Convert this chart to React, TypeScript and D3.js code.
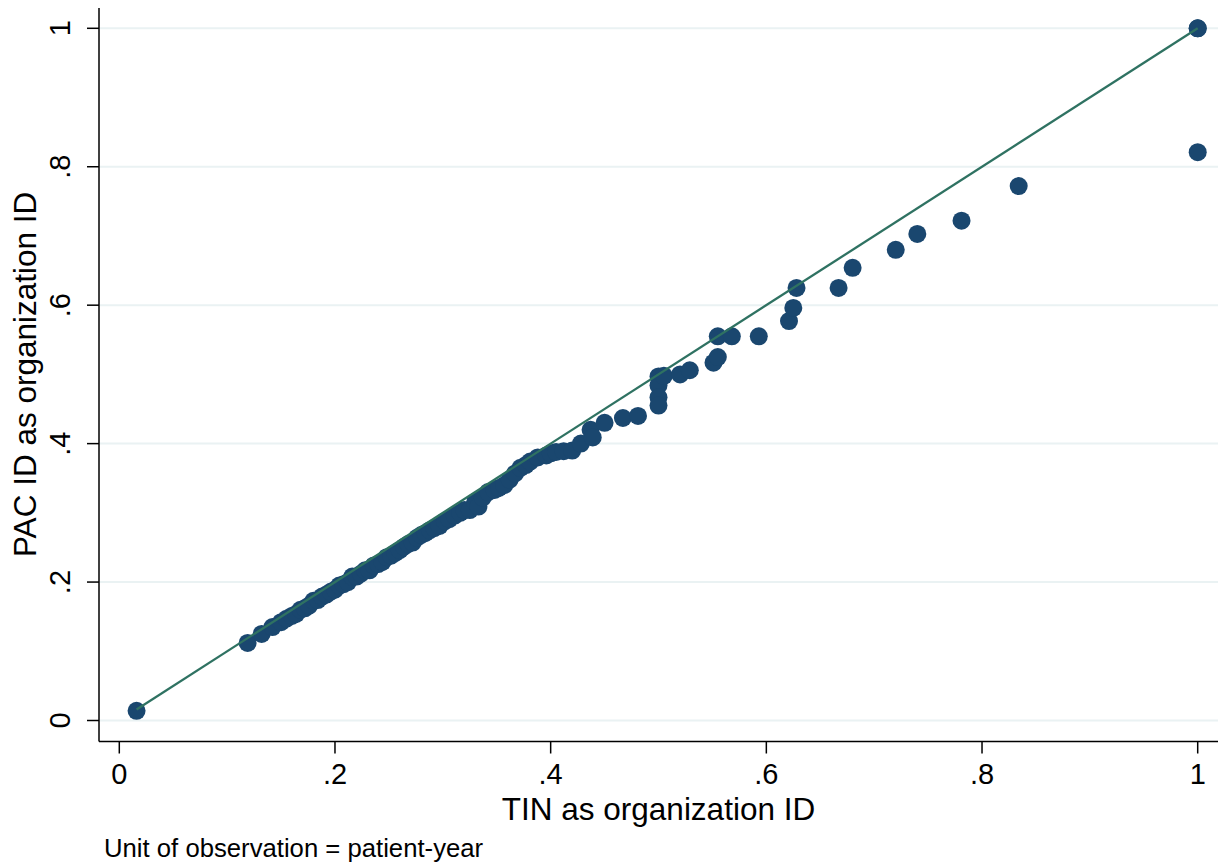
import React from "react";
import * as d3 from "d3";

const tinValues: number[] = [
  0.016, 0.119, 0.132, 0.142, 0.150, 0.155, 0.160, 0.164, 0.168, 0.172, 0.176, 0.180,
  0.184, 0.188, 0.192, 0.196, 0.200, 0.204, 0.208, 0.212, 0.216, 0.220, 0.224, 0.228,
  0.232, 0.236, 0.240, 0.244, 0.248, 0.252, 0.256, 0.260, 0.264, 0.268, 0.272, 0.276,
  0.280, 0.284, 0.288, 0.292, 0.297, 0.302, 0.306, 0.311, 0.316, 0.320, 0.325, 0.330,
  0.333, 0.337, 0.342, 0.348, 0.352, 0.357, 0.362, 0.367, 0.372, 0.377, 0.381, 0.388,
  0.396, 0.400, 0.405, 0.412, 0.420, 0.428, 0.437, 0.439, 0.450, 0.467, 0.481,
  0.500, 0.500, 0.500, 0.500, 0.505, 0.520, 0.529, 0.551, 0.555, 0.555, 0.568, 0.593,
  0.621, 0.625, 0.628, 0.667, 0.680, 0.720, 0.740, 0.781, 0.834, 1.0, 1.0, 1.0
];

const pacValues: number[] = [
  0.014, 0.112, 0.125, 0.135, 0.142, 0.147, 0.151, 0.154, 0.160, 0.162, 0.166, 0.173,
  0.174, 0.179, 0.182, 0.186, 0.189, 0.195, 0.197, 0.200, 0.208, 0.208, 0.212, 0.217,
  0.217, 0.224, 0.226, 0.229, 0.236, 0.238, 0.242, 0.246, 0.251, 0.255, 0.257, 0.264,
  0.268, 0.271, 0.275, 0.278, 0.281, 0.288, 0.291, 0.296, 0.300, 0.304, 0.304, 0.316,
  0.309, 0.322, 0.330, 0.333, 0.336, 0.340, 0.348, 0.357, 0.365, 0.369, 0.374, 0.380,
  0.383, 0.386, 0.388, 0.389, 0.390, 0.400, 0.420, 0.409, 0.430, 0.437, 0.440,
  0.497, 0.484, 0.467, 0.455, 0.498, 0.500, 0.506, 0.517, 0.525, 0.555, 0.555, 0.555,
  0.577, 0.596, 0.625, 0.625, 0.654, 0.680, 0.703, 0.722, 0.772, 1.0, 1.0, 0.821
];

const xTicks: number[] = [0, 0.2, 0.4, 0.6, 0.8, 1];
const yTicks: number[] = [0, 0.2, 0.4, 0.6, 0.8, 1];
const gridTicks: number[] = [0, 0.2, 0.4, 0.6, 0.8, 1];
const lineEnds: number[] = [0.016, 1];

const fmt = (v: number) => (v === 0 ? "0" : v === 1 ? "1" : d3.format(".1f")(v).replace(/^0/, ""));

export default function App() {
  const W = 1225;
  const H = 867;
  const x = d3.scaleLinear().domain([0, 1]).range([119.3, 1197.7]);
  const y = d3.scaleLinear().domain([0, 1]).range([720.5, 28.3]);
  const plotLeft = 99;
  const plotRight = 1218;
  const plotTop = 8;
  const plotBottom = 741.5;
  const font = "'Liberation Sans', Arial, sans-serif";
  const navy = "#1a476f";
  const lineColor = "#2f7262";
  const lineGen = d3.line<number>().x((d) => x(d)).y((d) => y(d));
  const pts = tinValues.map((t, i) => ({ t, p: pacValues[i] }));

  return (
    <svg width={W} height={H} style={{ position: "absolute", left: 0, top: 0, background: "#fff" }}>
      <rect x={0} y={0} width={W} height={H} fill="#ffffff" />
      {gridTicks.map((g) => (
        <line key={"g" + g} x1={plotLeft + 1} x2={plotRight} y1={y(g)} y2={y(g)} stroke="#eaf2f3" strokeWidth={2} />
      ))}
      {pts.map((d, i) => (
        <circle key={i} cx={x(d.t)} cy={y(d.p)} r={9} fill={navy} />
      ))}
      <path d={lineGen(lineEnds) || ""} stroke={lineColor} strokeWidth={2.3} fill="none" />
      <line x1={plotLeft} x2={plotLeft} y1={plotTop} y2={plotBottom} stroke="#000" strokeWidth={1.5} />
      <line x1={plotLeft} x2={plotRight} y1={plotBottom} y2={plotBottom} stroke="#000" strokeWidth={1.5} />
      {yTicks.map((t) => (
        <g key={"y" + t}>
          <line x1={plotLeft - 12} x2={plotLeft} y1={y(t)} y2={y(t)} stroke="#000" strokeWidth={1.5} />
          <text
            transform={`translate(70,${y(t)}) rotate(-90)`}
            textAnchor="middle"
            fontFamily={font}
            fontSize={29}
            fill="#000"
          >
            {fmt(t)}
          </text>
        </g>
      ))}
      {xTicks.map((t) => (
        <g key={"x" + t}>
          <line x1={x(t)} x2={x(t)} y1={plotBottom} y2={plotBottom + 12} stroke="#000" strokeWidth={1.5} />
          <text x={x(t)} y={784} textAnchor="middle" fontFamily={font} fontSize={29} fill="#000">
            {fmt(t)}
          </text>
        </g>
      ))}
      <text x={(plotLeft + plotRight) / 2} y={820} textAnchor="middle" fontFamily={font} fontSize={31.5} fill="#000">
        TIN as organization ID
      </text>
      <text
        transform={`translate(36,${(y(0) + y(1)) / 2}) rotate(-90)`}
        textAnchor="middle"
        fontFamily={font}
        fontSize={31.5}
        fill="#000"
      >
        PAC ID as organization ID
      </text>
      <text x={104} y={857} fontFamily={font} fontSize={25.7} fill="#000">
        Unit of observation = patient-year
      </text>
    </svg>
  );
}
